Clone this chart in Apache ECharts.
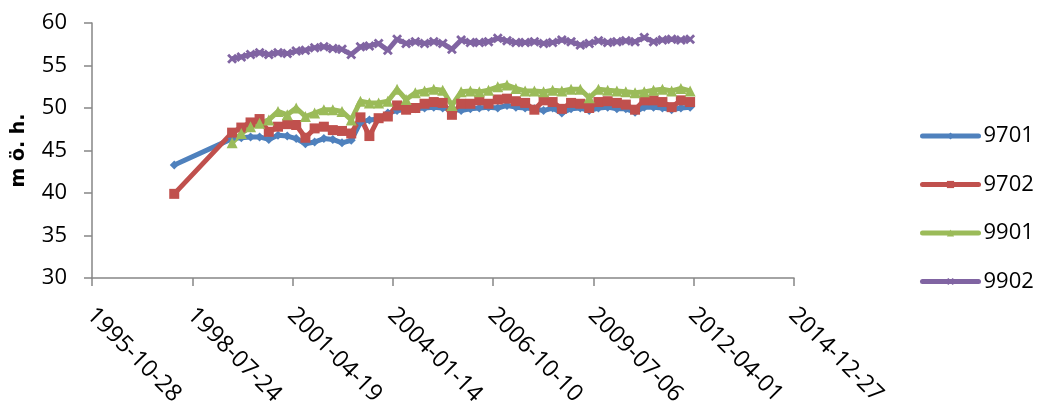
<!DOCTYPE html>
<html>
<head>
<meta charset="utf-8">
<script src="https://cdn.jsdelivr.net/npm/echarts@6/dist/echarts.min.js"></script>
<style>
  html, body { margin: 0; padding: 0; background: #ffffff; }
  #chart { width: 1038px; height: 401px; }
</style>
</head>
<body>
<div id="chart"></div>
<script>
// Sampling dates (first reading in 1998, then roughly quarterly)
const dates = [
  '1998-01-25',
  '1999-08-25', '1999-11-25',
  '2000-02-25', '2000-05-25', '2000-08-25', '2000-11-25',
  '2001-02-25', '2001-05-25', '2001-08-25', '2001-11-25',
  '2002-02-25', '2002-05-25', '2002-08-25', '2002-11-25',
  '2003-02-25', '2003-05-25', '2003-08-25', '2003-11-25',
  '2004-02-25', '2004-05-25', '2004-08-25', '2004-11-25',
  '2005-02-25', '2005-05-25', '2005-08-25', '2005-11-25',
  '2006-02-25', '2006-05-25', '2006-08-25', '2006-11-25',
  '2007-02-25', '2007-05-25', '2007-08-25', '2007-11-25',
  '2008-02-25', '2008-05-25', '2008-08-25', '2008-11-25',
  '2009-02-25', '2009-05-25', '2009-08-25', '2009-11-25',
  '2010-02-25', '2010-05-25', '2010-08-25', '2010-11-25',
  '2011-02-25', '2011-05-25', '2011-08-25', '2011-11-25',
  '2012-02-25'
];

// Levels in m ö. h. per well
const s9701 = [
  43.3,
  46.4, 46.5,
  46.6, 46.6, 46.3, 46.8,
  46.7, 46.4, 45.8, 46.0,
  46.4, 46.3, 45.9, 46.2,
  48.3, 48.6, 48.7, 49.4,
  49.7, 49.8, 49.9, 50.0,
  50.1, 50.0, 49.9, 49.7,
  49.9, 50.0, 50.1, 50.0,
  50.3, 50.1, 50.0, 49.9,
  49.7, 50.0, 49.4, 49.9,
  50.0, 49.7, 50.0, 50.1,
  49.9, 49.9, 49.5, 50.1,
  50.1, 50.0, 49.8, 50.0,
  50.1
];
const s9702 = [
  39.9,
  47.1, 47.7,
  48.3, 48.7, 47.2, 47.8,
  48.1, 48.0, 46.5, 47.6,
  47.8, 47.4, 47.3, 47.0,
  48.9, 46.7, 48.8, 49.0,
  50.3, 49.8, 50.0, 50.5,
  50.7, 50.6, 49.2, 50.5,
  50.5, 50.9, 50.5, 51.0,
  51.1, 50.8, 50.6, 49.8,
  50.9, 50.7, 49.9, 50.6,
  50.5, 50.0, 50.7, 50.8,
  50.6, 50.4, 49.8, 50.9,
  50.9, 50.7, 50.1, 50.9,
  50.7
];
const s9901 = [
  null,
  45.9, 47.0,
  47.8, 48.2, 48.6, 49.6,
  49.2, 50.0, 49.0, 49.4,
  49.8, 49.8, 49.6, 48.6,
  50.8, 50.6, 50.6, 50.8,
  52.2, 51.0, 51.8, 52.0,
  52.2, 52.1, 50.3, 51.9,
  52.0, 51.9, 52.1, 52.5,
  52.7, 52.3, 52.0, 52.0,
  51.9, 52.1, 52.0, 52.2,
  52.2, 51.2, 52.2, 52.1,
  52.0, 51.9, 51.8, 51.9,
  52.1, 52.2, 52.0, 52.3,
  52.0
];
const s9902 = [
  null,
  55.8, 56.0,
  56.3, 56.5, 56.3, 56.5,
  56.4, 56.7, 56.8, 57.1,
  57.2, 57.0, 56.9, 56.3,
  57.2, 57.3, 57.6, 56.8,
  58.1, 57.6, 57.8, 57.6,
  57.8, 57.6, 56.9, 58.0,
  57.7, 57.7, 57.8, 58.2,
  57.9, 57.7, 57.7, 57.8,
  57.6, 57.7, 58.0, 57.8,
  57.4, 57.6, 57.9, 57.7,
  57.8, 57.9, 57.8, 58.3,
  57.8, 58.0, 58.1, 58.0,
  58.1
];

const seriesNames = ['9701', '9702', '9901', '9902'];
const seriesColors = ['#4F81BD', '#C0504D', '#9BBB59', '#8064A2'];
const yTitle = 'm ö. h.';

// Date axis in day serial numbers (1900 date system), ticks every 1000 days
const SERIAL_OFFSET = 25569;
function toSerial(s) {
  const p = s.split('-').map(Number);
  return Date.UTC(p[0], p[1] - 1, p[2]) / 86400000 + SERIAL_OFFSET;
}
function serialLabel(v) {
  return new Date((v - SERIAL_OFFSET) * 86400000).toISOString().slice(0, 10);
}

const xSerials = dates.map(toSerial);
function pairs(values) {
  return values.map((v, i) => [xSerials[i], v]);
}

const crossPath = 'path://M0,2 L2,0 L5,3 L8,0 L10,2 L7,5 L10,8 L8,10 L5,7 L2,10 L0,8 L3,5 Z';
const symbols = ['diamond', 'rect', 'triangle', crossPath];
const symbolSizes = [9, 10, 11, 10];
const values = [s9701, s9702, s9901, s9902];

const FONT = '"Open Sans", "Liberation Sans", sans-serif';
const axisGray = '#868686';

const chart = echarts.init(document.getElementById('chart'), null, { renderer: 'canvas' });
chart.setOption({
  animation: false,
  backgroundColor: '#ffffff',
  grid: {
    left: 92, right: 244, top: 23, bottom: 123,
    containLabel: false,
    outerBoundsMode: 'none'
  },
  legend: {
    orient: 'vertical',
    left: 915,
    top: 120,
    itemWidth: 56,
    itemHeight: 9,
    itemGap: 26.5,
    lineStyle: { width: 5, cap: 'round' },
    textStyle: { fontFamily: FONT, fontSize: 22, color: '#000000' },
    data: seriesNames
  },
  xAxis: {
    type: 'value',
    min: 35000,
    max: 42000,
    interval: 1000,
    axisLine: { show: true, lineStyle: { color: axisGray, width: 1.5 } },
    axisTick: { show: true, inside: false, length: 8, lineStyle: { color: axisGray, width: 1.5 } },
    splitLine: { show: false },
    axisLabel: {
      rotate: -45,
      margin: 18,
      verticalAlign: 'top',
      padding: [0, 0, 0, 10],
      fontFamily: FONT,
      fontSize: 23.5,
      color: '#000000',
      formatter: serialLabel
    }
  },
  yAxis: {
    type: 'value',
    min: 30,
    max: 60,
    interval: 5,
    name: yTitle,
    nameLocation: 'middle',
    nameGap: 63,
    nameRotate: 90,
    nameTextStyle: { fontFamily: '"DejaVu Sans", sans-serif', fontWeight: 'bold', fontSize: 19, color: '#000000' },
    axisLine: { show: true, lineStyle: { color: axisGray, width: 1.5 } },
    axisTick: { show: true, inside: false, length: 8, lineStyle: { color: axisGray, width: 1.5 } },
    splitLine: { show: false },
    axisLabel: { margin: 25, fontFamily: FONT, fontSize: 22, color: '#000000' }
  },
  series: seriesNames.map((name, i) => ({
    name: name,
    type: 'line',
    data: pairs(values[i]),
    symbol: symbols[i],
    symbolSize: symbolSizes[i],
    showSymbol: true,
    showAllSymbol: true,
    connectNulls: false,
    lineStyle: { color: seriesColors[i], width: 5 },
    itemStyle: { color: seriesColors[i], borderWidth: 0 },
    emphasis: { disabled: true }
  }))
});
</script>
</body>
</html>
